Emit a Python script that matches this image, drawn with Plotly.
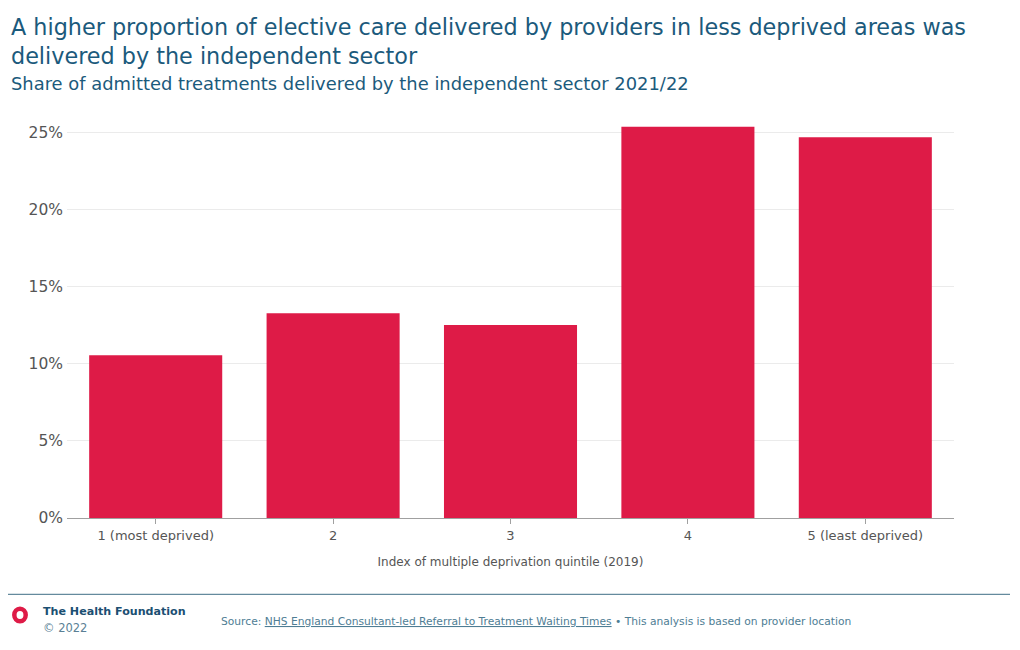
import plotly.graph_objects as go

categories = ["1 (most deprived)", "2", "3", "4", "5 (least deprived)"]
shares = [0.1056, 0.1327, 0.1251, 0.2536, 0.2469]
tick_vals = [0, 0.05, 0.10, 0.15, 0.20, 0.25]
tick_text = ["0%", "5%", "10%", "15%", "20%", "25%"]

title_line1 = "A higher proportion of elective care delivered by providers in less deprived areas was"
title_line2 = "delivered by the independent sector"
subtitle = "Share of admitted treatments delivered by the independent sector 2021/22"
x_title = "Index of multiple deprivation quintile (2019)"
brand = "The Health Foundation"
copyright_text = "© 2022"
source_text = ("Source: <u>NHS England Consultant-led Referral to Treatment Waiting Times</u>"
               " • This analysis is based on provider location")

# page body has an 8px margin; work in target-image pixel coords and offset
OFF = 8
W, H = 1020 - OFF, 650 - OFF
PLOT_L, PLOT_R, PLOT_T, PLOT_B = 67, 954, 117, 518  # target-image pixels
ML, MT = PLOT_L - OFF, PLOT_T - OFF
MR, MB = W - (PLOT_R - OFF), H - (PLOT_B - OFF)
PW, PH = PLOT_R - PLOT_L, PLOT_B - PLOT_T


def px(x):
    return (x - PLOT_L) / PW


def py(y):
    return (PLOT_B - y) / PH


FONT = "DejaVu Sans"
TITLE_C = "#1b5a7c"
RED = "#de1b47"
GREY = "#555555"

fig = go.Figure(go.Bar(
    x=categories, y=shares, marker=dict(color=RED, line=dict(width=0)),
    width=0.75, hoverinfo="skip",
))

fig.update_layout(
    width=W, height=H,
    margin=dict(l=ML, r=MR, t=MT, b=MB, autoexpand=False),
    paper_bgcolor="white", plot_bgcolor="white",
    showlegend=False,
    font=dict(family=FONT, color=GREY),
    xaxis=dict(
        showgrid=False, showline=True, linecolor="#a0a0a0", linewidth=1,
        ticks="outside", ticklen=5, tickcolor="#a0a0a0",
        tickfont=dict(size=13, color=GREY),
        title=dict(text=x_title, font=dict(size=12, color=GREY), standoff=16),
    ),
    yaxis=dict(
        range=[0, 0.26], tickvals=tick_vals, ticktext=tick_text,
        showgrid=True, gridcolor="#ebebeb", gridwidth=1,
        zeroline=False, showline=False,
        tickfont=dict(size=15.5, color=GREY), ticks="", ticklabelstandoff=3,
    ),
)

ann = [
    dict(text=title_line1, x=px(9), y=py(26.5), xanchor="left", yanchor="middle",
         font=dict(size=22.3, color=TITLE_C)),
    dict(text=title_line2, x=px(9), y=py(55.5), xanchor="left", yanchor="middle",
         font=dict(size=22.3, color=TITLE_C)),
    dict(text=subtitle, x=px(9), y=py(83.5), xanchor="left", yanchor="middle",
         font=dict(size=17.9, color=TITLE_C)),
    dict(text="<b>" + brand + "</b>", x=px(41), y=py(611.5), xanchor="left", yanchor="middle",
         font=dict(size=11.1, color="#1b4f72")),
    dict(text=copyright_text, x=px(41), y=py(627.5), xanchor="left", yanchor="middle",
         font=dict(size=11.5, color="#5a7f95")),
    dict(text=source_text, x=px(219), y=py(621), xanchor="left", yanchor="middle",
         font=dict(size=10.7, color="#4e7d94")),
]
for a in ann:
    a.update(xref="paper", yref="paper", showarrow=False)
fig.update_layout(annotations=ann)

fig.add_shape(type="line", xref="paper", yref="paper",
              x0=px(8), x1=px(1010), y0=py(594.3), y1=py(594.3),
              line=dict(color="#3e6d85", width=1))
fig.add_shape(type="circle", xref="paper", yref="paper",
              x0=px(14.3), x1=px(25.7), y0=py(608.8), y1=py(621.2),
              line=dict(color=RED, width=4.5), fillcolor="rgba(0,0,0,0)")

fig.write_html("out.html")
